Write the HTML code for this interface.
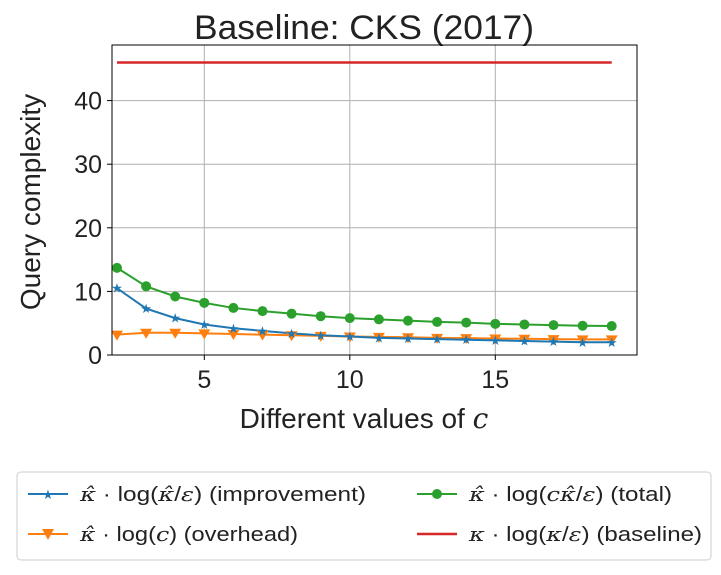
<!DOCTYPE html>
<html><head><meta charset="utf-8"><style>
body{margin:0;background:#fff;font-family:"Liberation Sans","DejaVu Sans",sans-serif;}
svg text{font-family:"Liberation Sans","DejaVu Sans",sans-serif;fill:#222;}
.m{font-family:"DejaVu Serif",serif;font-style:italic;}
</style></head><body>
<svg id="chart" width="721" height="570" xmlns="http://www.w3.org/2000/svg">
<text x="364" y="39" font-size="34" text-anchor="middle" textLength="340" lengthAdjust="spacingAndGlyphs">Baseline: CKS (2017)</text>
<g id="grid"></g>
<g id="series"></g>
<rect x="112" y="45" width="525" height="310" fill="none" stroke="#000" stroke-width="1"/>
<g id="ticks"></g>
<text x="364" y="428" font-size="28" text-anchor="middle">Different values of <tspan class="m">c</tspan></text>
<text transform="translate(40,202) rotate(-90)" font-size="28" text-anchor="middle">Query complexity</text>
<g>
<rect x="17" y="472" width="694" height="88" rx="4" fill="#fff" stroke="#ccc"/>
<g><line x1="28" y1="494" x2="68" y2="494" stroke="#1f77b4" stroke-width="2"/><text x="48" y="499" font-size="13" text-anchor="middle" style="fill:#1f77b4">★</text><text x="80" y="501" font-size="20" textLength="286" lengthAdjust="spacingAndGlyphs"><tspan class="m">κ̂</tspan> · log(<tspan class="m">κ̂</tspan>/<tspan class="m">ε</tspan>) (improvement)</text></g>
<g><line x1="28" y1="534" x2="68" y2="534" stroke="#ff7f0e" stroke-width="2"/><path d="M42,529 L54,529 L48,540 Z" fill="#ff7f0e"/><text x="80" y="541" font-size="20" textLength="218" lengthAdjust="spacingAndGlyphs"><tspan class="m">κ̂</tspan> · log(<tspan class="m">c</tspan>) (overhead)</text></g>
<g><line x1="417" y1="494" x2="457" y2="494" stroke="#2ca02c" stroke-width="2"/><circle cx="437" cy="494" r="5" fill="#2ca02c"/><text x="469" y="501" font-size="20" textLength="203" lengthAdjust="spacingAndGlyphs"><tspan class="m">κ̂</tspan> · log(<tspan class="m">cκ̂</tspan>/<tspan class="m">ε</tspan>) (total)</text></g>
<g><line x1="417" y1="534" x2="457" y2="534" stroke="#d62728" stroke-width="2.5"/><text x="469" y="541" font-size="20" textLength="233" lengthAdjust="spacingAndGlyphs"><tspan class="m">κ</tspan> · log(<tspan class="m">κ</tspan>/<tspan class="m">ε</tspan>) (baseline)</text></g>
</g>
</svg>
<script>
const cValues=[2,3,4,5,6,7,8,9,10,11,12,13,14,15,16,17,18,19];
const improvement=[10.5,7.3,5.8,4.8,4.2,3.8,3.4,3.1,2.9,2.7,2.6,2.5,2.4,2.3,2.2,2.1,2.0,2.0];
const overhead=[3.2,3.5,3.5,3.4,3.3,3.2,3.1,3.0,2.9,2.85,2.8,2.7,2.65,2.6,2.55,2.5,2.45,2.45];
const total=[13.7,10.8,9.2,8.2,7.4,6.9,6.5,6.1,5.8,5.6,5.4,5.2,5.1,4.9,4.8,4.7,4.6,4.55];
const baseline=[46,46];
const baselineX=[2,19];
const xTicks=[5,10,15];
const yTicks=[0,10,20,30,40];
const X=v=>117+(v-2)*29.1;
const Y=v=>355-v*6.36;
const NS="http://www.w3.org/2000/svg";
function mk(tag,attrs,parent){const e=document.createElementNS(NS,tag);for(const k in attrs)e.setAttribute(k,attrs[k]);parent.appendChild(e);return e;}
const grid=document.getElementById('grid'),ticks=document.getElementById('ticks'),ser=document.getElementById('series');
xTicks.forEach(t=>{const l=mk('line',{x1:X(t),x2:X(t),y1:45,y2:355,stroke:'#b0b0b0','stroke-width':1},grid);


mk('line',{x1:X(t),x2:X(t),y1:355,y2:360,stroke:'#000'},ticks);
const tx=mk('text',{x:X(t),y:388,'font-size':25,'text-anchor':'middle'},ticks);tx.textContent=t;

});
yTicks.forEach(t=>{const l=mk('line',{x1:112,x2:637,y1:Y(t),y2:Y(t),stroke:'#b0b0b0','stroke-width':1},grid);


mk('line',{x1:107,x2:112,y1:Y(t),y2:Y(t),stroke:'#000'},ticks);
const tx=mk('text',{x:102,y:Y(t)+9,'font-size':25,'text-anchor':'end'},ticks);tx.textContent=t;

});
function line(xs,ys,color,name,w){const p=mk('polyline',{points:xs.map((x,i)=>X(x)+','+Y(ys[i])).join(' '),fill:'none',stroke:color,'stroke-width':w||2},ser);

}
line(baselineX,baseline,'#d62728','baseline-line',2.5);
line(cValues,total,'#2ca02c','total-line');
line(cValues,overhead,'#ff7f0e','overhead-line');
line(cValues,improvement,'#1f77b4','improvement-line');
cValues.forEach((c,i)=>{
const m=mk('circle',{cx:X(c),cy:Y(total[i]),r:5,fill:'#2ca02c'},ser);


const x=X(c),y=Y(overhead[i]);
const o=mk('path',{d:`M${x-6},${y-4} L${x+6},${y-4} L${x},${y+6} Z`,fill:'#ff7f0e'},ser);


const yi=Y(improvement[i]);
const s=mk('text',{x:x,y:yi+4.5,'font-size':13,'text-anchor':'middle',style:'fill:#1f77b4'},ser);s.textContent='★';


});
</script>
</body></html>
